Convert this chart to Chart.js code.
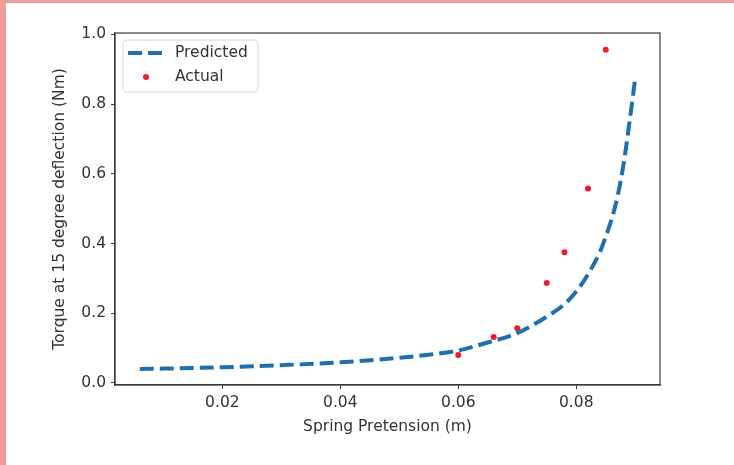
<!DOCTYPE html>
<html>
<head>
    <title>Torque vs Spring Pretension</title>
    <script src="https://cdn.jsdelivr.net/npm/chart.js"></script>
    <style>
        body { margin: 0; background: #fff; }
        #wrap { position: relative; width: 734px; height: 465px; overflow: hidden; }
        #chart { position: absolute; left: 0; top: 0; }
        .strip { position: absolute; background: #ee9a9a; }
    </style>
</head>
<body>
<div id="wrap">
    <canvas id="chart" width="734" height="465"></canvas>
    <div class="strip" style="left:0;top:0;width:734px;height:3px"></div>
    <div class="strip" style="left:0;top:0;width:6px;height:465px"></div>
</div>

<script>
    // values
    const predictedX = [0.006, 0.01, 0.02, 0.03, 0.04, 0.05, 0.055, 0.06, 0.065, 0.07, 0.075, 0.078, 0.08, 0.082, 0.084, 0.085, 0.086, 0.087, 0.088, 0.089, 0.09];
    const predictedY = [0.040, 0.041, 0.045, 0.051, 0.059, 0.072, 0.081, 0.093, 0.116, 0.143, 0.19, 0.226, 0.262, 0.312, 0.375, 0.42, 0.47, 0.535, 0.625, 0.745, 0.874];

    const actualX = [0.060, 0.066, 0.070, 0.075, 0.078, 0.082, 0.085];
    const actualY = [0.080, 0.132, 0.157, 0.287, 0.375, 0.558, 0.956];

    const xTicks = [0.02, 0.04, 0.06, 0.08];
    const yTicks = [0.0, 0.2, 0.4, 0.6, 0.8, 1.0];

    const blue = '#1f6fae';
    const red = 'rgb(236, 28, 40)';
    const textColor = '#333';
    const fontFamily = "'DejaVu Sans', sans-serif";

    const toPoints = (xs, ys) => xs.map((x, i) => ({ x: x, y: ys[i] }));

    // box around the plot + legend inside it
    const framePlugin = {
        id: 'frame',
        afterDraw(chart) {
            const ctx = chart.ctx;
            const a = chart.chartArea;
            ctx.save();
            ctx.strokeStyle = '#3a3a3a';
            ctx.lineWidth = 1.2;
            ctx.strokeRect(a.left, a.top, a.right - a.left, a.bottom - a.top);

            // legend
            const lx = 123, ly = 40, lw = 135, lh = 52;
            ctx.beginPath();
            ctx.roundRect(lx, ly, lw, lh, 4);
            ctx.fillStyle = 'rgba(255,255,255,0.8)';
            ctx.fill();
            ctx.strokeStyle = '#d6d6d6';
            ctx.lineWidth = 1;
            ctx.stroke();

            ctx.strokeStyle = blue;
            ctx.lineWidth = 4;
            ctx.setLineDash([14, 6]);
            ctx.beginPath();
            ctx.moveTo(128, 53);
            ctx.lineTo(162, 53);
            ctx.stroke();
            ctx.setLineDash([]);

            ctx.fillStyle = red;
            ctx.beginPath();
            ctx.arc(146, 77, 3, 0, Math.PI * 2);
            ctx.fill();

            ctx.fillStyle = textColor;
            ctx.font = '15.5px ' + fontFamily;
            ctx.textBaseline = 'middle';
            ctx.textAlign = 'left';
            ctx.fillText('Predicted', 175, 53);
            ctx.fillText('Actual', 175, 77);
            ctx.restore();
        }
    };

    const ctx = document.getElementById('chart').getContext('2d');
    new Chart(ctx, {
        type: 'scatter',
        data: {
            datasets: [{
                label: 'Predicted',
                data: toPoints(predictedX, predictedY),
                showLine: true,
                borderColor: blue,
                borderWidth: 4,
                borderDash: [14, 6],
                cubicInterpolationMode: 'monotone',
                pointRadius: 0,
                fill: false
            }, {
                label: 'Actual',
                data: toPoints(actualX, actualY),
                showLine: false,
                pointRadius: 3,
                pointBackgroundColor: red,
                pointBorderWidth: 0
            }]
        },
        options: {
            responsive: false,
            animation: false,
            devicePixelRatio: 1,
            layout: { padding: { left: 51, right: 74, top: 33, bottom: 29 } },
            plugins: {
                legend: { display: false },
                tooltip: { enabled: false }
            },
            scales: {
                x: {
                    type: 'linear',
                    min: 0.0018,
                    max: 0.0942,
                    afterBuildTicks: s => { s.ticks = xTicks.map(v => ({ value: v })); },
                    afterFit: s => { s.height = 436 - 385; },
                    grid: { drawOnChartArea: false, drawTicks: true, tickLength: 4, color: '#3a3a3a' },
                    border: { display: true, color: '#3a3a3a', width: 1.2 },
                    ticks: {
                        padding: 5,
                        color: textColor,
                        font: { family: fontFamily, size: 15.5 },
                        maxRotation: 0,
                        callback: v => v.toFixed(2)
                    },
                    title: {
                        display: true,
                        text: 'Spring Pretension (m)',
                        color: textColor,
                        padding: 0,
                        font: { family: fontFamily, size: 15.5 }
                    }
                },
                y: {
                    type: 'linear',
                    min: -0.006,
                    max: 1.004,
                    afterBuildTicks: s => { s.ticks = yTicks.map(v => ({ value: v })); },
                    afterFit: s => { s.width = 115 - 51; },
                    grid: { drawOnChartArea: false, drawTicks: true, tickLength: 4, color: '#3a3a3a' },
                    border: { display: true, color: '#3a3a3a', width: 1.2 },
                    ticks: {
                        padding: 5,
                        color: textColor,
                        font: { family: fontFamily, size: 15.5 },
                        callback: v => v.toFixed(1)
                    },
                    title: {
                        display: true,
                        text: 'Torque at 15 degree deflection (Nm)',
                        color: textColor,
                        padding: 0,
                        font: { family: fontFamily, size: 15.5 }
                    }
                }
            }
        },
        plugins: [framePlugin]
    });
</script>
</body>
</html>
